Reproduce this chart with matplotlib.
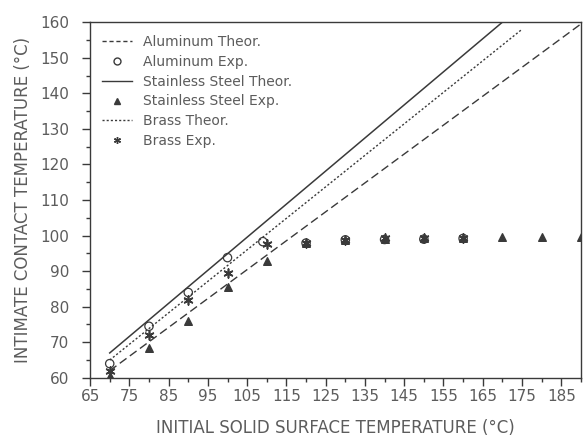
import matplotlib
matplotlib.use("Agg")
import matplotlib.pyplot as plt
from matplotlib.ticker import MultipleLocator
from matplotlib.lines import Line2D

# Theoretical lines (endpoints)
al_theor_x = [70, 170]
al_theor_y = [67, 160]
br_theor_x = [70, 175]
br_theor_y = [65, 158]
ss_theor_x = [70, 190]
ss_theor_y = [62, 159.5]

# Experimental points
al_exp_x = [70, 80, 90, 100, 109, 120, 130, 140, 150, 160]
al_exp_y = [64, 74.5, 84, 93.8, 98.3, 97.9, 98.8, 98.9, 99, 99.2]
ss_exp_x = [70, 80, 90, 100, 110, 120, 130, 140, 150, 160, 170, 180, 190]
ss_exp_y = [60.5, 68.5, 76, 85.5, 92.8, 98, 98.8, 99, 99.2, 99.4, 99.5, 99.5, 99.6]
br_exp_x = [70, 80, 90, 100, 110, 120, 130, 140, 150, 160]
br_exp_y = [62, 72, 81.8, 89.5, 97.6, 97.9, 98.8, 99.2, 99.3, 99.4]

xticks = [65, 75, 85, 95, 105, 115, 125, 135, 145, 155, 165, 175, 185]
yticks = [60, 70, 80, 90, 100, 110, 120, 130, 140, 150, 160]

ink = "#3a3a3a"
txt = "#5c5c5c"

plt.rcParams['font.family'] = ['DejaVu Sans']
fig = plt.figure(figsize=(5.85, 4.44), dpi=100)
ax = fig.add_axes([0.154, 0.149, 0.839, 0.801])

l1, = ax.plot(al_theor_x, al_theor_y, color=ink, lw=1.1, ls='-')
l3, = ax.plot(ss_theor_x, ss_theor_y, color=ink, lw=1.0, ls=(0, (6, 3)))
l5, = ax.plot(br_theor_x, br_theor_y, color=ink, lw=1.0, ls=(0, (1.5, 1.5)))

m2 = ax.scatter(al_exp_x, al_exp_y, marker='o', s=36, facecolors='none', edgecolors=ink, lw=0.9, zorder=3)
m4 = ax.scatter(ss_exp_x, ss_exp_y, marker='^', s=30, color=ink, zorder=3, clip_on=True)
m6 = ax.scatter(br_exp_x, br_exp_y, marker=(6, 2, 0), s=40, color=ink, lw=1.2, zorder=3)

ax.set_xlim(65, 190)
ax.set_ylim(60, 160)
ax.set_xticks(xticks)
ax.set_yticks(yticks)
ax.xaxis.set_minor_locator(MultipleLocator(5))
ax.yaxis.set_minor_locator(MultipleLocator(5))
ax.tick_params(which='major', direction='out', length=6, width=1, color=ink, labelcolor=txt, labelsize=11)
ax.tick_params(axis='y', which='major', pad=9)
ax.tick_params(axis='x', which='major', pad=2)
ax.tick_params(which='minor', direction='out', length=3, width=1, color=ink)
for s in ax.spines.values():
    s.set_color(ink)
    s.set_linewidth(1)

ax.set_xlabel("INITIAL SOLID SURFACE TEMPERATURE (°C)", color=txt, fontsize=12, labelpad=11)
ax.set_ylabel("INTIMATE CONTACT TEMPERATURE (°C)", color=txt, fontsize=12, labelpad=6)

handles = [
    Line2D([], [], color=ink, lw=1.0, ls=(0, (3, 2))),
    Line2D([], [], color=ink, marker='o', ls='none', mfc='none', ms=5),
    Line2D([], [], color=ink, lw=1.0, ls='-'),
    Line2D([], [], color=ink, marker='^', ls='none', ms=5),
    Line2D([], [], color=ink, lw=1.0, ls=(0, (1.5, 1.5))),
    Line2D([], [], color=ink, marker=(6, 2, 0), ls='none', ms=5),
]
labels = ["Aluminum Theor.", "Aluminum Exp.", "Stainless Steel Theor.",
          "Stainless Steel Exp.", "Brass Theor.", "Brass Exp."]
leg = ax.legend(handles, labels, loc='upper left', frameon=False, fontsize=10,
                handlelength=2.2, handletextpad=0.8, labelspacing=0.42,
                borderaxespad=0.0, bbox_to_anchor=(0.012, 0.98))
for t in leg.get_texts():
    t.set_color(txt)

fig.savefig("out.png", dpi=100, facecolor='white')
